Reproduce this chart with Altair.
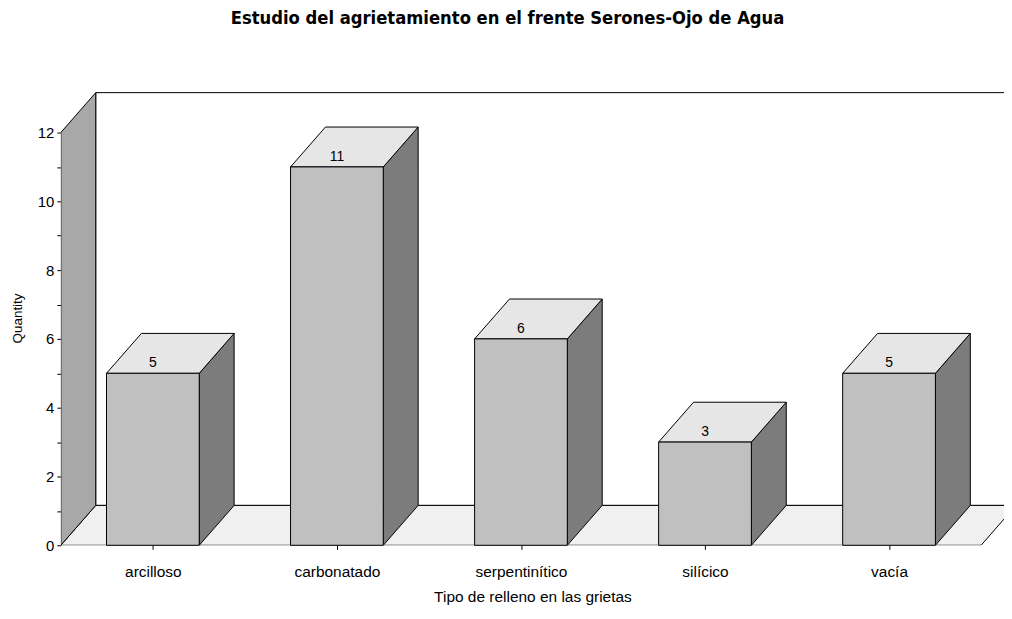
import altair as alt
import pandas as pd

categories = ["arcilloso", "carbonatado", "serpentinítico", "silícico", "vacía"]
values = [5, 11, 6, 3, 5]
y_ticks = list(range(0, 13))

title = "Estudio del agrietamiento en el frente Serones-Ojo de Agua"
x_title = "Tipo de relleno en las grietas"
y_title = "Quantity"

# geometry (pixels -> data units)
W, H = 946, 456
step_px = 184.6
unit_y_px = 34.5
depth_x_px, depth_y_px = 35, 40
x_min = -0.5
x_max = x_min + W / step_px
y_max = H / unit_y_px
DX = depth_x_px / step_px
DY = depth_y_px / unit_y_px
HW = 46.5 / step_px
n = len(categories)
Y_TOP = max(y_ticks)

xs = alt.Scale(domain=[x_min, x_max], nice=False, zero=False)
ys = alt.Scale(domain=[0, y_max], nice=False, zero=False)

FONT = "Liberation Sans, Arial, sans-serif"
label_expr = "[" + ",".join("'%s'" % c for c in categories) + "][datum.value]"

X_AX = alt.Axis(values=list(range(n)), labelExpr=label_expr, domain=False, grid=False,
                tickSize=4, tickColor="black", labelColor="black", labelPadding=15,
                labelFont=FONT, labelFontSize=15.5,
                titleFont=FONT, titleFontSize=15.5, titleFontWeight="normal",
                titleColor="black", titlePadding=10)
Y_AX = alt.Axis(values=y_ticks, labelExpr="datum.value % 2 == 0 ? datum.value : ''",
                domain=False, grid=False, tickSize=4, tickColor="black",
                labelColor="black", labelPadding=3,
                labelFont=FONT, labelFontSize=15,
                titleFont=FONT, titleFontSize=13.5, titleFontWeight="normal",
                titleColor="black", titlePadding=13)

def X(f):
    return alt.X(f, scale=xs, axis=X_AX, title=x_title)

def Y(f):
    return alt.Y(f, scale=ys, axis=Y_AX, title=y_title)

# back wall
back = pd.DataFrame({"x": [x_min + DX], "x2": [n - 0.5 + DX], "y": [DY], "y2": [Y_TOP + DY]})
back_l = alt.Chart(back).mark_rect(fill="white", stroke="black", strokeWidth=1, clip=True).encode(
    x=X("x:Q"), x2="x2:Q", y=Y("y:Q"), y2="y2:Q")

# floor (horizontal area)
floor = pd.DataFrame({"y": [0, DY], "x": [x_min, x_min + DX], "x2": [n - 0.5, n - 0.5 + DX]})
floor_l = alt.Chart(floor).mark_area(orient="horizontal", fill="#f0f0f0", stroke="black",
                                     strokeWidth=1, clip=True).encode(
    y=Y("y:Q"), x=X("x:Q"), x2="x2:Q")

# left wall (vertical area)
wall = pd.DataFrame({"x": [x_min, x_min + DX], "y": [0, DY], "y2": [Y_TOP, Y_TOP + DY]})
wall_l = alt.Chart(wall).mark_area(orient="vertical", fill="#a8a8a8", stroke="black",
                                   strokeWidth=1, clip=True).encode(
    x=X("x:Q"), y=Y("y:Q"), y2="y2:Q")

# bar faces
side_rows, top_rows, front_rows = [], [], []
for i, (c, v) in enumerate(zip(categories, values)):
    side_rows += [{"cat": c, "x": i + HW, "y": 0, "y2": v},
                  {"cat": c, "x": i + HW + DX, "y": DY, "y2": v + DY}]
    top_rows += [{"cat": c, "y": v, "x": i - HW, "x2": i + HW},
                 {"cat": c, "y": v + DY, "x": i - HW + DX, "x2": i + HW + DX}]
    front_rows.append({"cat": c, "x": i - HW, "x2": i + HW, "v": v, "i": i})
side = pd.DataFrame(side_rows)
top = pd.DataFrame(top_rows)
front = pd.DataFrame(front_rows)

side_l = alt.Chart(side).mark_area(orient="vertical", fill="#7c7c7c", stroke="black",
                                   strokeWidth=1, clip=True).encode(
    x=X("x:Q"), y=Y("y:Q"), y2="y2:Q", detail="cat:N")
top_l = alt.Chart(top).mark_area(orient="horizontal", fill="#e6e6e6", stroke="black",
                                 strokeWidth=1, clip=True).encode(
    y=Y("y:Q"), x=X("x:Q"), x2="x2:Q", detail="cat:N")
front_l = alt.Chart(front).mark_rect(fill="#c0c0c0", stroke="black", strokeWidth=1).encode(
    x=X("x:Q"), x2="x2:Q", y=Y("v:Q"), y2=alt.datum(0))
text_l = alt.Chart(front).mark_text(font=FONT, fontSize=14, fill="black",
                                    baseline="alphabetic", dy=-6).encode(
    x=X("i:Q"), y=Y("v:Q"), text="v:Q")

chart = alt.layer(back_l, floor_l, wall_l, side_l, top_l, front_l, text_l).properties(
    width=W, height=H,
    title=alt.TitleParams(title, font="Liberation Sans Narrow, DejaVu Sans Condensed, Roboto Condensed, Liberation Sans",
                          fontSize=18.3, fontWeight="bold",
                          color="black", anchor="middle", offset=63, dx=-25),
    autosize=alt.AutoSizeParams(type="none"),
    padding={"left": 53, "top": 82, "right": 0, "bottom": 60},
).configure_view(stroke=None)

chart.save("out.html", embed_options={"renderer": "svg", "actions": False})
